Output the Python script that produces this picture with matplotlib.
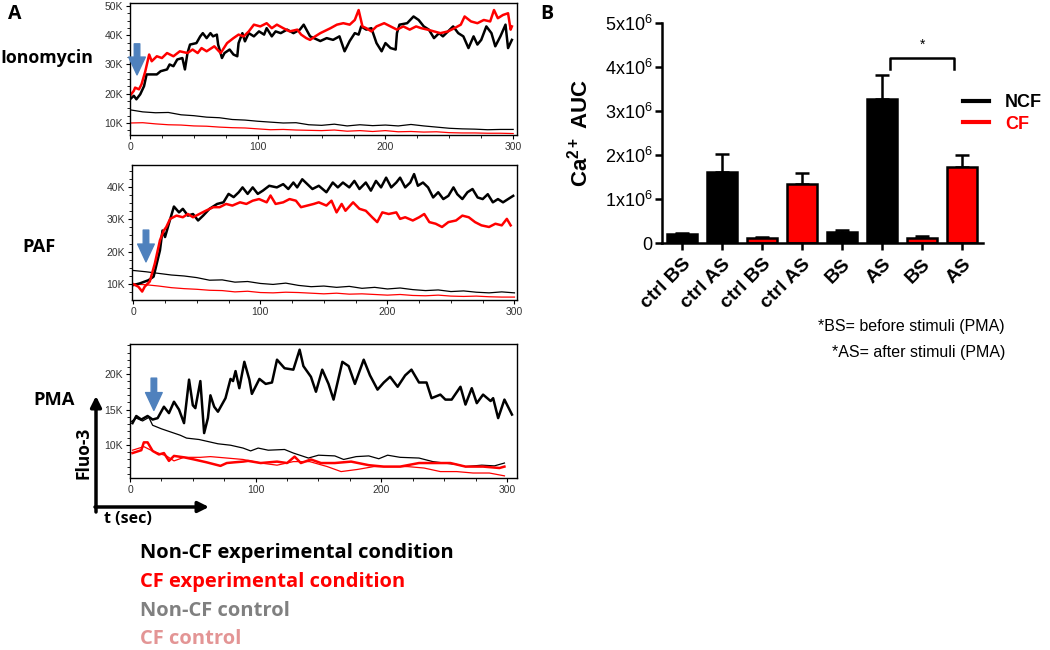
import matplotlib
matplotlib.use('Agg')
import matplotlib.pyplot as plt
from matplotlib.lines import Line2D
from matplotlib.ticker import MultipleLocator, FuncFormatter

plt.rcParams['font.family'] = ['Liberation Sans', 'DejaVu Sans']
plt.rcParams['mathtext.fontset'] = 'custom'
plt.rcParams['mathtext.rm'] = 'Liberation Sans'
plt.rcParams['mathtext.bf'] = 'Liberation Sans:bold'
plt.rcParams['mathtext.it'] = 'Liberation Sans:italic'

# ---------------- panel A data (Fluo-3, in thousands) ----------------
# Ionomycin
iono_ncf_t = [0, 3, 5, 8, 11, 13, 21, 24, 29, 31,
              34, 37, 41, 43, 45, 47, 52, 55, 57, 60,
              63, 65, 68, 69, 72, 74, 78, 81, 84, 85,
              88, 90, 93, 97, 101, 105, 107, 111, 114, 118,
              123, 128, 133, 136, 141, 149, 154, 159, 164, 168,
              172, 176, 179, 181, 185, 189, 193, 197, 200, 204,
              208, 209, 211, 217, 222, 226, 230, 234, 238, 242,
              245, 249, 253, 257, 261, 265, 269, 272, 275, 279,
              283, 286, 290, 294, 296, 299]
iono_ncf = [18.1, 19.3, 18.1, 19.8, 22.6, 26.6, 26.6, 27.7, 28.3, 30.0,
            29.4, 31.7, 32.2, 28.3, 33.9, 36.8, 37.3, 39.6, 40.7, 39.0,
            40.7, 39.6, 40.2, 36.8, 32.2, 33.9, 35.1, 33.4, 32.8, 37.3,
            40.7, 37.9, 40.7, 39.6, 41.3, 40.2, 42.4, 39.6, 41.3, 40.7,
            41.9, 40.7, 41.9, 43.6, 39.6, 38.0, 39.0, 38.4, 39.6, 34.5,
            38.0, 40.7, 40.2, 43.0, 41.9, 42.4, 37.3, 34.5, 37.3, 35.6,
            35.1, 40.7, 43.6, 44.1, 46.4, 45.2, 43.0, 41.9, 39.0, 40.7,
            39.6, 41.3, 43.0, 40.7, 39.6, 35.6, 39.6, 36.8, 38.4, 43.0,
            40.7, 36.2, 39.6, 43.6, 35.6, 38.4]
iono_cf_t = [0, 3, 4, 7, 9, 12, 15, 17, 21, 25,
             29, 34, 39, 45, 49, 53, 56, 60, 66, 71,
             76, 81, 85, 89, 93, 97, 102, 107, 111, 115,
             120, 125, 131, 134, 138, 141, 145, 149, 157, 162,
             167, 172, 176, 179, 182, 185, 189, 193, 199, 204,
             209, 214, 219, 224, 228, 233, 238, 243, 249, 254,
             259, 262, 267, 272, 277, 282, 285, 288, 292, 296,
             298, 299]
iono_cf = [19.3, 21.0, 22.1, 21.5, 23.2, 27.7, 33.4, 31.1, 32.8, 32.2,
           33.9, 32.8, 34.5, 33.9, 35.1, 33.9, 35.6, 34.5, 36.2, 33.9,
           37.3, 39.0, 40.2, 39.6, 41.3, 43.6, 43.0, 44.1, 42.4, 43.6,
           42.4, 41.3, 41.9, 40.2, 39.0, 38.4, 39.6, 40.7, 42.4, 43.6,
           44.1, 43.6, 45.2, 48.6, 43.0, 42.4, 41.3, 43.0, 44.1, 43.0,
           41.9, 43.0, 41.9, 43.0, 42.4, 41.9, 41.3, 40.7, 41.3, 42.4,
           43.6, 46.4, 44.7, 44.1, 45.2, 44.7, 48.6, 45.8, 46.9, 47.5,
           41.9, 43.0]
ctrl_t = [0, 10, 20, 30, 40, 50, 60, 70, 80, 90,
          100, 110, 120, 130, 140, 150, 160, 170, 180, 190,
          200, 210, 220, 230, 240, 250, 260, 270, 280, 290, 300]
iono_ncf_ctrl = [14.5, 13.8, 13.5, 13.6, 12.8, 12.5, 12.0, 11.8, 11.2, 11.0,
                 10.6, 10.3, 10.0, 10.1, 9.4, 9.2, 9.6, 9.0, 9.4, 9.1,
                 9.3, 9.0, 9.5, 9.0, 8.6, 8.2, 8.0, 7.9, 7.7, 7.8, 7.8]
iono_cf_ctrl = [10.0, 10.1, 9.7, 9.4, 9.3, 9.0, 8.9, 8.6, 8.4, 8.3,
                8.0, 7.7, 7.8, 7.6, 7.5, 7.4, 7.6, 7.2, 7.4, 7.1,
                7.4, 7.0, 7.1, 6.9, 7.0, 6.7, 6.6, 6.6, 6.5, 6.5, 6.4]

# PAF
paf_ncf_t = [0, 5, 12, 16, 21, 23, 25, 28, 32, 36,
             39, 43, 47, 51, 55, 60, 66, 71, 75, 79,
             83, 86, 90, 94, 98, 102, 107, 113, 118, 122,
             126, 129, 133, 137, 141, 146, 152, 157, 161, 165,
             170, 174, 178, 183, 187, 191, 195, 199, 203, 207,
             210, 214, 218, 221, 224, 228, 232, 236, 240, 244,
             248, 252, 255, 259, 263, 267, 271, 275, 279, 283,
             287, 291, 295, 299]
paf_ncf = [9.7, 10.2, 11.2, 12.3, 20.4, 26.5, 24.5, 28.6, 33.9, 32.1,
           33.2, 31.1, 31.6, 29.6, 31.1, 33.2, 34.7, 35.2, 37.8, 36.8,
           38.3, 39.8, 37.8, 39.8, 37.8, 38.8, 40.3, 39.8, 40.8, 39.3,
           41.3, 39.8, 42.3, 40.8, 39.3, 40.3, 38.3, 41.3, 39.8, 41.3,
           39.8, 41.8, 39.3, 41.3, 38.8, 41.8, 39.8, 42.8, 39.8, 41.3,
           42.8, 39.8, 41.3, 43.9, 40.3, 41.3, 39.8, 36.7, 38.3, 36.2,
           37.2, 39.8, 37.7, 36.2, 38.3, 39.3, 36.7, 36.2, 37.7, 35.2,
           36.2, 35.2, 36.2, 37.2]
paf_cf_t = [0, 4, 7, 9, 13, 17, 21, 24, 26, 29,
            34, 39, 43, 47, 52, 57, 63, 68, 73, 78,
            84, 89, 94, 99, 105, 108, 112, 118, 123, 128,
            132, 137, 142, 146, 152, 156, 160, 164, 167, 173,
            178, 183, 188, 192, 196, 201, 207, 210, 214, 220,
            225, 229, 233, 238, 243, 248, 254, 259, 264, 269,
            274, 280, 285, 290, 294, 297]
paf_cf = [10.0, 9.2, 7.7, 9.2, 10.8, 16.4, 23.5, 26.5, 27.6, 30.1,
          31.1, 30.6, 31.6, 30.6, 31.6, 32.6, 33.7, 33.7, 34.7, 34.2,
          35.2, 34.7, 35.7, 36.2, 35.2, 37.3, 34.7, 35.2, 36.2, 35.7,
          33.7, 34.2, 34.7, 35.2, 34.2, 35.7, 32.1, 34.7, 32.6, 35.2,
          33.2, 32.6, 30.6, 29.1, 32.1, 31.6, 32.1, 30.1, 30.6, 29.6,
          30.6, 31.6, 29.1, 28.6, 27.6, 29.1, 29.6, 31.1, 30.6, 29.1,
          28.1, 27.6, 28.6, 28.1, 30.1, 28.1]
paf_ncf_ctrl = [14.2, 13.8, 13.3, 12.8, 12.5, 12.0, 11.2, 11.3, 10.6, 10.8,
                10.2, 9.9, 10.3, 9.6, 9.2, 9.4, 9.0, 9.3, 8.7, 9.0,
                8.5, 8.8, 8.3, 8.0, 8.2, 7.7, 7.9, 7.5, 7.3, 7.6, 7.3]
paf_cf_ctrl = [10.0, 9.8, 9.4, 8.9, 8.6, 8.4, 8.1, 8.0, 7.6, 7.8,
               7.4, 7.3, 7.5, 7.4, 7.2, 7.0, 7.2, 6.9, 7.0, 6.8,
               6.6, 6.8, 6.5, 6.4, 6.6, 6.3, 6.2, 6.3, 6.1, 6.0, 6.0]

# PMA
pma_ncf_t = [2, 5, 9, 14, 18, 22, 27, 31, 35, 39,
             43, 47, 50, 52, 56, 59, 62, 64, 67, 70,
             76, 80, 82, 84, 87, 91, 95, 97, 103, 108,
             113, 117, 123, 130, 135, 138, 144, 148, 153, 158,
             162, 169, 174, 179, 186, 191, 197, 202, 207, 213,
             219, 224, 230, 236, 240, 247, 251, 256, 263, 267,
             272, 276, 281, 287, 289, 293, 298, 304]
pma_ncf = [13.1, 14.1, 13.6, 14.1, 13.6, 13.8, 15.4, 14.5, 16.1, 15.0,
           13.1, 19.2, 15.6, 15.2, 19.0, 11.7, 13.8, 17.0, 15.4, 14.7,
           16.6, 19.3, 19.0, 20.4, 18.0, 21.7, 19.2, 17.2, 19.3, 18.6,
           18.8, 22.0, 20.8, 20.6, 23.4, 21.1, 19.6, 17.5, 20.6, 18.6,
           16.4, 21.7, 21.1, 18.6, 22.0, 19.8, 17.8, 18.8, 19.6, 18.2,
           19.8, 20.6, 18.8, 18.8, 16.6, 17.1, 16.4, 16.4, 18.2, 15.7,
           18.0, 15.9, 17.1, 16.2, 16.6, 13.8, 16.4, 14.3]
pma_ncf_ctrl_t = [0, 5, 10, 15, 18, 25, 30, 40, 45, 55,
                  65, 70, 80, 90, 96, 102, 110, 123, 130, 142,
                  150, 163, 170, 180, 190, 198, 205, 215, 230, 241,
                  250, 260, 267, 280, 290, 298]
pma_ncf_ctrl = [13.2, 13.8, 13.4, 13.9, 12.8, 12.3, 12.0, 11.4, 11.0, 10.8,
                10.4, 10.2, 10.0, 9.6, 9.2, 9.6, 9.3, 9.4, 8.9, 8.2,
                8.6, 8.5, 8.0, 8.4, 8.5, 8.1, 8.6, 8.3, 8.2, 7.7,
                7.5, 7.3, 7.0, 7.2, 7.1, 7.5]
pma_cf_t = [2, 9, 11, 14, 18, 23, 27, 31, 35, 43,
            51, 61, 72, 77, 83, 90, 94, 104, 117, 125,
            131, 136, 144, 152, 163, 176, 190, 202, 215, 230,
            241, 255, 267, 281, 294, 298]
pma_cf = [8.9, 9.3, 10.4, 10.4, 9.2, 8.7, 8.9, 7.8, 8.5, 8.3,
          8.0, 7.6, 7.1, 7.5, 7.6, 7.7, 7.8, 7.5, 7.7, 7.5,
          8.4, 7.5, 8.0, 7.5, 7.5, 7.7, 7.2, 7.0, 7.0, 7.5,
          7.5, 7.5, 7.0, 7.0, 6.8, 7.0]
pma_cf_ctrl_t = [2, 11, 19, 29, 35, 43, 56, 64, 77, 90,
                 104, 117, 130, 143, 157, 168, 181, 194, 208, 221,
                 234, 247, 260, 273, 286, 298]
pma_cf_ctrl = [9.3, 9.8, 9.1, 8.5, 7.8, 8.3, 8.3, 8.4, 8.2, 8.0,
               7.5, 7.2, 7.7, 7.7, 7.0, 6.3, 6.6, 7.0, 7.0, 7.0,
               6.8, 6.3, 6.3, 6.1, 6.1, 5.7]

# ---------------- panel B data ----------------
groups = ['ctrl BS', 'ctrl AS', 'ctrl BS', 'ctrl AS', 'BS', 'AS', 'BS', 'AS']
auc = [0.20e6, 1.62e6, 0.12e6, 1.33e6, 0.26e6, 3.27e6, 0.12e6, 1.73e6]
auc_err = [0.02e6, 0.40e6, 0.02e6, 0.27e6, 0.03e6, 0.55e6, 0.04e6, 0.26e6]
bar_colors = ['black', 'black', 'red', 'red', 'black', 'black', 'red', 'red']

BLUE = '#4F81BD'
LABEL_FONT = ['Open Sans', 'DejaVu Sans']

fig = plt.figure(figsize=(10.5, 6.5), dpi=100)

# overlay in pixel coordinates for free-standing labels and arrows
ov = fig.add_axes([0, 0, 1, 1])
ov.set_xlim(0, 1050)
ov.set_ylim(650, 0)
ov.axis('off')


def trace_axes(rect, xlim, ylim, yticks, yminor):
    ax = fig.add_axes(rect)
    ax.set_xlim(*xlim)
    ax.set_ylim(*ylim)
    ax.set_xticks([0, 100, 200, 300])
    ax.xaxis.set_minor_locator(MultipleLocator(25))
    ax.set_yticks(yticks)
    ax.yaxis.set_minor_locator(MultipleLocator(yminor))
    ax.yaxis.set_major_formatter(FuncFormatter(lambda v, p: '%dK' % v))
    ax.tick_params(labelsize=7.5, labelcolor='#333333', length=3, width=0.8, pad=2)
    ax.tick_params(which='minor', length=2, width=0.6)
    for s in ax.spines.values():
        s.set_linewidth(1.0)
    return ax


ax1 = trace_axes([130 / 1050, 1 - 135 / 650, 387 / 1050, 132 / 650],
                 (0, 303), (5.9, 51), [10, 20, 30, 40, 50], 2.5)
ax1.plot(ctrl_t, iono_ncf_ctrl, color='black', lw=0.9)
ax1.plot(ctrl_t, iono_cf_ctrl, color='red', lw=0.9)
ax1.plot(iono_ncf_t, iono_ncf, color='black', lw=1.8)
ax1.plot(iono_cf_t, iono_cf, color='red', lw=1.8)

ax2 = trace_axes([132 / 1050, 1 - 300 / 650, 385 / 1050, 135 / 650],
                 (-1, 302), (5.1, 46.7), [10, 20, 30, 40], 2.5)
ax2.plot(ctrl_t, paf_ncf_ctrl, color='black', lw=0.9)
ax2.plot(ctrl_t, paf_cf_ctrl, color='red', lw=0.9)
ax2.plot(paf_ncf_t, paf_ncf, color='black', lw=1.8)
ax2.plot(paf_cf_t, paf_cf, color='red', lw=1.8)

ax3 = trace_axes([130 / 1050, 1 - 478 / 650, 387 / 1050, 134 / 650],
                 (0, 308), (5.4, 24.2), [10, 15, 20], 1)
ax3.plot(pma_ncf_ctrl_t, pma_ncf_ctrl, color='black', lw=0.9)
ax3.plot(pma_cf_ctrl_t, pma_cf_ctrl, color='red', lw=0.9)
ax3.plot(pma_ncf_t, pma_ncf, color='black', lw=1.8)
ax3.plot(pma_cf_t, pma_cf, color='red', lw=1.8)

# blue stimulus arrows
arrow_kw = dict(arrowstyle='simple,head_length=0.8,head_width=0.75,tail_width=0.25',
                color=BLUE, mutation_scale=16)
ax1.annotate('', xy=(5.5, 25.5), xytext=(5.5, 38.0), arrowprops=arrow_kw)
ax2.annotate('', xy=(10, 16.0), xytext=(10, 27.5), arrowprops=arrow_kw)
ax3.annotate('', xy=(19, 14.5), xytext=(19, 19.8), arrowprops=arrow_kw)

# panel A labels
ov.text(8, 14, 'A', fontsize=14, fontweight='bold', family=LABEL_FONT, va='center')
ov.text(0, 58, 'Ionomycin', fontsize=12.8, fontweight='bold', family=LABEL_FONT, va='center')
ov.text(22, 247, 'PAF', fontsize=13.2, fontweight='bold', family=LABEL_FONT, va='center')
ov.text(33, 400, 'PMA', fontsize=13.2, fontweight='bold', family=LABEL_FONT, va='center')

black_arrow = dict(arrowstyle='-|>', color='black', lw=2.5, mutation_scale=16,
                   shrinkA=0, shrinkB=0)
ov.annotate('', xy=(96, 396), xytext=(96, 512), arrowprops=black_arrow)
ov.annotate('', xy=(209, 507), xytext=(95, 507), arrowprops=black_arrow)
ov.text(84, 453, 'Fluo-3', rotation=90, fontsize=12.5, fontweight='bold',
        family=LABEL_FONT, ha='center', va='center')
ov.text(104, 519, 't (sec)', fontsize=11.5, fontweight='bold', family=LABEL_FONT, va='center')

legend_rows = [('Non-CF experimental condition', 'black', 553),
               ('CF experimental condition', 'red', 582),
               ('Non-CF control', '#808080', 611),
               ('CF control', '#E39595', 639)]
for txt, col, ypix in legend_rows:
    ov.text(140, ypix, txt, color=col, fontsize=14.5, fontweight='bold',
            family=LABEL_FONT, va='center')

# ---------------- panel B ----------------
axb = fig.add_axes([662 / 1050, 1 - 243 / 650, 321 / 1050, 220 / 650])
x = list(range(len(groups)))
axb.bar(x, auc, width=0.75, color=bar_colors, edgecolor='black', linewidth=1.8, zorder=2)
axb.errorbar(x, auc, yerr=[[0] * len(auc), auc_err], fmt='none', ecolor='black',
             elinewidth=1.8, capsize=5, capthick=1.8, zorder=1)
axb.set_xlim(-0.5, 7.52)
axb.set_ylim(0, 5e6)
axb.set_yticks([0, 1e6, 2e6, 3e6, 4e6, 5e6])
axb.yaxis.set_major_formatter(FuncFormatter(
    lambda v, p: '0' if v == 0 else r'$\mathregular{%dx10^6}$' % round(v / 1e6)))
axb.set_xticks(x)
axb.set_xticklabels(groups, rotation=45, ha='right', va='top', rotation_mode='anchor',
                    fontsize=14, fontweight='bold')
axb.tick_params(axis='y', labelsize=13, length=5, width=1.8, pad=2)
axb.tick_params(axis='x', length=5, width=1.8, pad=4)
for s in ['top', 'right']:
    axb.spines[s].set_visible(False)
for s in ['left', 'bottom']:
    axb.spines[s].set_linewidth(1.8)
axb.set_ylabel(r'$\mathbf{Ca^{2+}\ AUC}$', fontsize=16, labelpad=9)

# significance bracket between the two AS groups
axb.plot([5.2, 5.2, 6.8, 6.8], [3.95e6, 4.2e6, 4.2e6, 3.95e6], color='black', lw=1.8,
         clip_on=False)
axb.text(6.0, 4.5e6, '*', ha='center', va='center', fontsize=10)

axb.legend(handles=[Line2D([], [], color='black', lw=3), Line2D([], [], color='red', lw=3)],
           labels=['NCF', 'CF'], labelcolor=['black', 'red'],
           prop=dict(weight='bold', size=13), frameon=False, handlelength=1.4,
           handletextpad=0.9, labelspacing=0.25, loc='upper left',
           bbox_to_anchor=(947 / 1050, 1 - 78 / 650), bbox_transform=fig.transFigure)

ov.text(540, 14, 'B', fontsize=14, fontweight='bold', family=LABEL_FONT, va='center')
ov.text(1005, 327, '*BS= before stimuli (PMA)', ha='right', va='center', fontsize=11.5)
ov.text(1005, 353, '*AS= after stimuli (PMA)', ha='right', va='center', fontsize=11.5)

fig.savefig('out.png', dpi=100)
